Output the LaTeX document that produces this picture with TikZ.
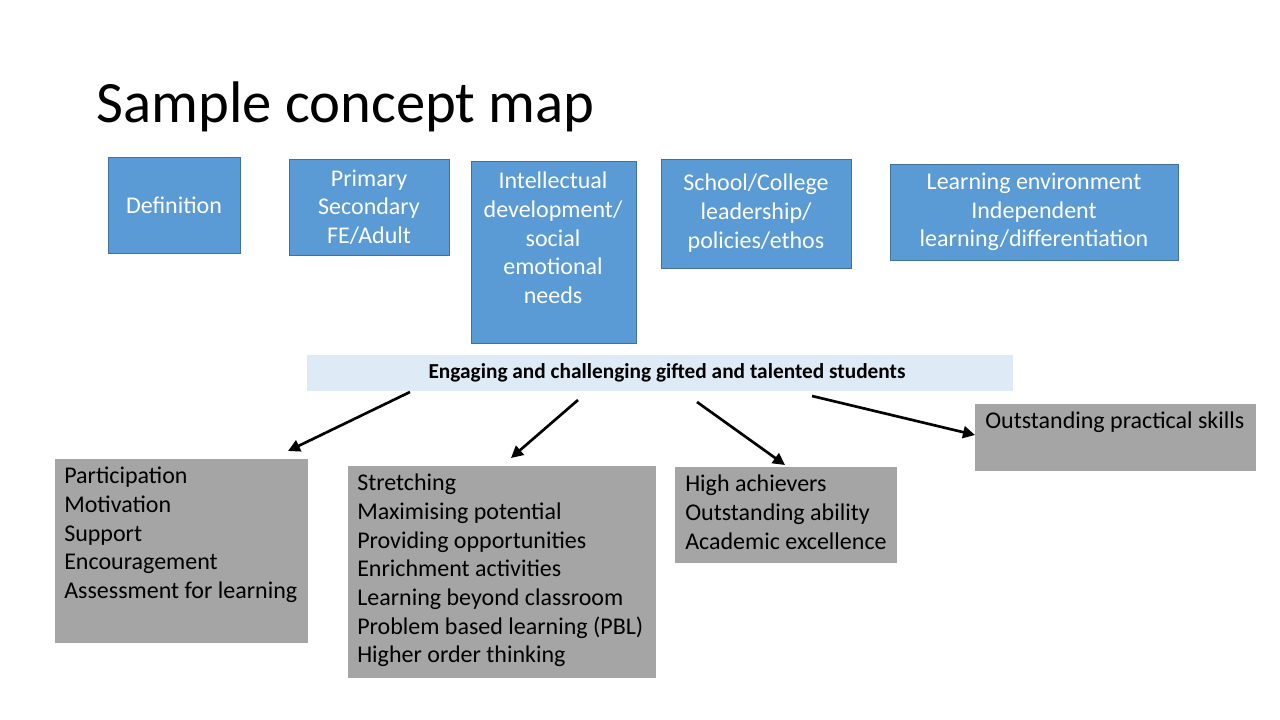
\documentclass[tikz,border=0pt]{standalone}
\usepackage{fontspec}
\setmainfont{Carlito}
\usetikzlibrary{arrows.meta}
\definecolor{bl}{HTML}{5B9BD5}
\definecolor{bld}{HTML}{41719C}
\definecolor{gr}{HTML}{A5A5A5}
\definecolor{lb}{HTML}{DEEBF7}
\begin{document}
\begin{tikzpicture}[x=0.75pt,y=-0.75pt,
  blue/.style={fill=bl,draw=bld,line width=0.6pt,text=white,align=center,font=\fontsize{18}{21.5}\selectfont,inner sep=0pt},
  grey/.style={fill=gr,draw=none,text=black,align=left,font=\fontsize{18}{21.5}\selectfont,inner sep=0pt},
  arr/.style={-{Triangle[length=9pt,width=9pt]},line width=2pt}]
\useasboundingbox (0,0) rectangle (1280,720);
\node[anchor=west,font=\fontsize{44}{50}\selectfont\addfontfeatures{}] (t) at (92,107) {Sample concept map};
\draw[blue] (108,157) rectangle (240,253); \node[blue,fill=none,draw=none] (d) at (174,205) {Definition};
\draw[blue] (289,159) rectangle (449,255); \node[blue,fill=none,draw=none] (p) at (369,207) {Primary\\Secondary\\FE/Adult};
\draw[blue] (471,161) rectangle (636,343); \node[blue,fill=none,draw=none] (i) at (553,238) {Intellectual\\development/\\social\\emotional\\needs};
\draw[blue] (661,159) rectangle (851,268); \node[blue,fill=none,draw=none] (s) at (756,213) {School/College\\leadership/\\policies/ethos};
\draw[blue] (890,164) rectangle (1178,260); \node[blue,fill=none,draw=none] (l) at (1034,212) {Learning environment\\Independent\\learning/differentiation};
\fill[lb] (307,355) rectangle (1013,391);
\node[font=\fontsize{16}{19}\selectfont\bfseries] (c) at (667,373) {Engaging and challenging gifted and talented students};
\fill[gr] (55,459) rectangle (308,643);
\node[grey,fill=none,anchor=north west] (g1) at (64,467) {Participation\\Motivation\\Support\\Encouragement\\Assessment for learning};
\fill[gr] (348,466) rectangle (656,678);
\node[grey,fill=none,anchor=north west] (g2) at (357,474) {Stretching\\Maximising potential\\Providing opportunities\\Enrichment activities\\Learning beyond classroom\\Problem based learning (PBL)\\Higher order thinking};
\fill[gr] (675,467) rectangle (897,563);
\node[grey,fill=none,anchor=north west] (g3) at (685,475) {High achievers\\Outstanding ability\\Academic excellence};
\fill[gr] (975,404) rectangle (1256,471);
\node[grey,fill=none,anchor=north west] (g4) at (985,412) {Outstanding practical skills};
\coordinate (a1) at (410,392); \coordinate (b1) at (288,451);
\coordinate (a2) at (578,400); \coordinate (b2) at (511,458);
\coordinate (a3) at (697,402); \coordinate (b3) at (785,465);
\coordinate (a4) at (812,396); \coordinate (b4) at (975,435);
\draw[arr] (a1)--(b1); \draw[arr] (a2)--(b2); \draw[arr] (a3)--(b3); \draw[arr] (a4)--(b4);
\end{tikzpicture}
\end{document}
